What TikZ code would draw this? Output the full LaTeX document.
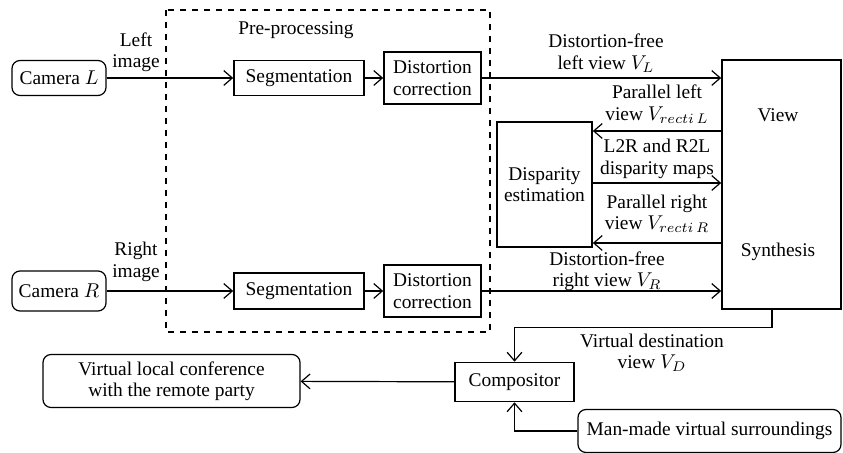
\documentclass[tikz,border=0pt]{standalone}
\usepackage{fontspec}
\setmainfont{Liberation Serif}
\usetikzlibrary{arrows.meta,positioning}

\begin{document}
\begin{tikzpicture}[
  x=0.5pt, y=-0.5pt,
  font=\fontsize{9.7}{10.7}\selectfont,
  box/.style={draw, line width=0.8pt, align=center, inner sep=1pt},
  cam/.style={draw, rounded corners=4pt, line width=0.6pt, align=center, inner sep=1pt},
  lbl/.style={align=center, inner sep=0pt},
  arrow/.style={-{Straight Barb[length=1.5mm,width=2.6mm]}, line width=0.6pt}
]
\useasboundingbox (0,0) rectangle (843,453);

% pre-processing frame
\draw[dashed, line width=0.7pt] (166,10) rectangle (490,332);
\node[lbl] (pre) at (296,30) {Pre-processing};

% cameras and pre-processing
\node[cam, minimum width=47pt, minimum height=17.5pt] (camL) at (59,78) {Camera $L$};
\node[cam, minimum width=47pt, minimum height=20pt] (camR) at (59,291) {Camera $R$};
\node[box, minimum width=65pt, minimum height=17.5pt] (segL) at (299,78) {Segmentation};
\node[box, minimum width=65pt, minimum height=18pt] (segR) at (299,291) {Segmentation};
\node[box, minimum width=48.5pt, minimum height=26pt] (distL) at (432.5,78) {Distortion\\correction};
\node[box, minimum width=48.5pt, minimum height=26pt] (distR) at (432.5,291) {Distortion\\correction};

% synthesis
\node[box, minimum width=59.5pt, minimum height=124.5pt] (vs) at (781.5,184.5) {};
\node[lbl] (viewtxt) at (778,115) {View};
\node[lbl] (synthtxt) at (778,252) {Synthesis};
\node[box, minimum width=47.5pt, minimum height=62.5pt] (disp) at (544.5,184.5) {Disparity\\estimation};

% output stage
\node[box, minimum width=59.5pt, minimum height=19.5pt] (comp) at (514.5,382) {Compositor};
\node[cam, minimum width=128.5pt, minimum height=26.5pt] (conf) at (171.5,381) {Virtual local conference\\with the remote party};
\node[cam, minimum width=131.5pt, minimum height=21.5pt] (mm) at (709.5,431) {Man-made virtual surroundings};

% labels
\node[lbl] (limg) at (136,52) {Left\\image};
\node[lbl] (rimg) at (136,262) {Right\\image};
\node[lbl] (vl) at (606,53) {Distortion-free\\left view $V_L$};
\node[lbl] (vrl) at (657,104) {Parallel left\\view $V_{recti\,L}$};
\node[lbl] (maps) at (657,159) {L2R and R2L\\disparity maps};
\node[lbl] (vrr) at (657,214) {Parallel right\\view $V_{recti\,R}$};
\node[lbl] (vr) at (607,271) {Distortion-free\\right view $V_R$};
\node[lbl] (vd) at (652,353) {Virtual destination\\view $V_D$};

\draw[arrow] (camL) -- (segL);
\draw[arrow] (segL) -- (distL);
\draw[arrow] (distL) -- (distL -| vs.west);
\draw[arrow] (camR) -- (segR);
\draw[arrow] (segR) -- (distR);
\draw[arrow] (distR) -- (distR -| vs.west);
\draw[arrow] ([yshift=26.75pt]disp.east -| vs.west) -- ([yshift=26.75pt]disp.east);
\draw[arrow] ([yshift=0.75pt]disp.east) -- ([yshift=0.75pt]disp.east -| vs.west);
\draw[arrow] ([yshift=-29.25pt]disp.east -| vs.west) -- ([yshift=-29.25pt]disp.east);
\draw[arrow] ([xshift=-4.75pt]vs.south) -- ++(0,18) -| (comp.north);
\draw[arrow] (comp) -- (conf);
\draw[arrow] (mm.west) -| (comp.south);
\end{tikzpicture}
\end{document}
